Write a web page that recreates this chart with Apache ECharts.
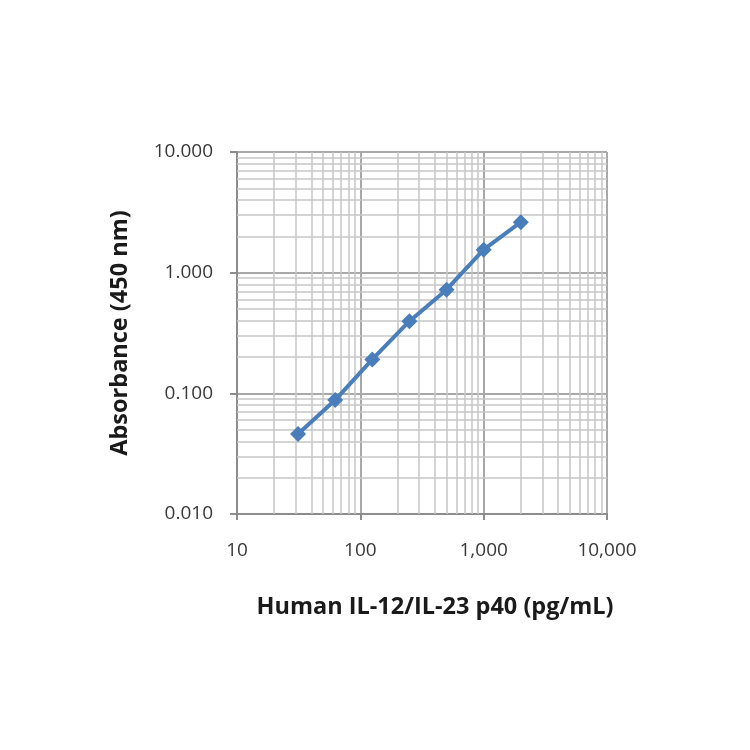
<!DOCTYPE html>
<html><head><meta charset="utf-8">
<script src="https://cdn.jsdelivr.net/npm/echarts@6/dist/echarts.min.js"></script>
<style>html,body{margin:0;padding:0;background:#fff}#c{width:750px;height:750px}</style>
</head><body><div id="c"></div>
<script>
const concentrations = [31.25, 62.5, 125, 250, 500, 1000, 2000];
const absorbance = [0.046, 0.088, 0.191, 0.396, 0.723, 1.55, 2.62];
const xMinorTicks = [20,30,40,50,60,70,80,90,200,300,400,500,600,700,800,900,2000,3000,4000,5000,6000,7000,8000,9000];
const yMinorTicks = [0.02,0.03,0.04,0.05,0.06,0.07,0.08,0.09,0.2,0.3,0.4,0.5,0.6,0.7,0.8,0.9,2,3,4,5,6,7,8,9];
const xTitle = 'Human IL-12/IL-23 p40 (pg/mL)';
const yTitle = 'Absorbance (450 nm)';

const chart = echarts.init(document.getElementById('c'));
const minorStyle = {color:'#c6c6c6', width:1.5, type:'solid'};
const markData = xMinorTicks.map(v => ({xAxis: v})).concat(yMinorTicks.map(v => ({yAxis: v})));
chart.setOption({
  animation:false,
  grid:{left:237, top:152, width:370, height:362, containLabel:false},
  xAxis:{
    type:'log', logBase:10, min:10, max:10000,
    name:xTitle, nameLocation:'middle', nameGap:81,
    nameTextStyle:{fontFamily:'Open Sans', fontWeight:'bold', fontSize:23.5, color:'#1a1a1a', padding:[0,0,0,26]},
    axisLine:{lineStyle:{color:'#8c8c8c', width:2}},
    axisTick:{show:true, length:6, lineStyle:{color:'#8c8c8c', width:2}},
    axisLabel:{fontFamily:'Open Sans', fontSize:19, color:'#383838', margin:27,
      formatter:v => Math.round(v).toLocaleString('en-US')},
    splitLine:{show:true, lineStyle:{color:'#a8a8a8', width:2}}
  },
  yAxis:{
    type:'log', logBase:10, min:0.01, max:10,
    name:yTitle, nameLocation:'middle', nameGap:105,
    nameTextStyle:{fontFamily:'Open Sans', fontWeight:'bold', fontSize:23.5, color:'#1a1a1a'},
    axisLine:{show:true, lineStyle:{color:'#8c8c8c', width:2}},
    axisTick:{show:true, length:7, lineStyle:{color:'#8c8c8c', width:2}},
    axisLabel:{fontFamily:'Open Sans', fontSize:19, color:'#383838', margin:24,
      formatter:v => v.toFixed(3)},
    splitLine:{show:true, lineStyle:{color:'#a8a8a8', width:2}}
  },
  series:[{
    type:'line',
    data:concentrations.map((c,i)=>[c, absorbance[i]]),
    symbol:'diamond', symbolSize:16,
    lineStyle:{color:'#4a7ebb', width:4},
    itemStyle:{color:'#4a7ebb'},
    z:5,
    markLine:{silent:true, symbol:'none', label:{show:false}, lineStyle:minorStyle, z:1,
      animation:false, data:markData}
  }]
});
</script></body></html>
